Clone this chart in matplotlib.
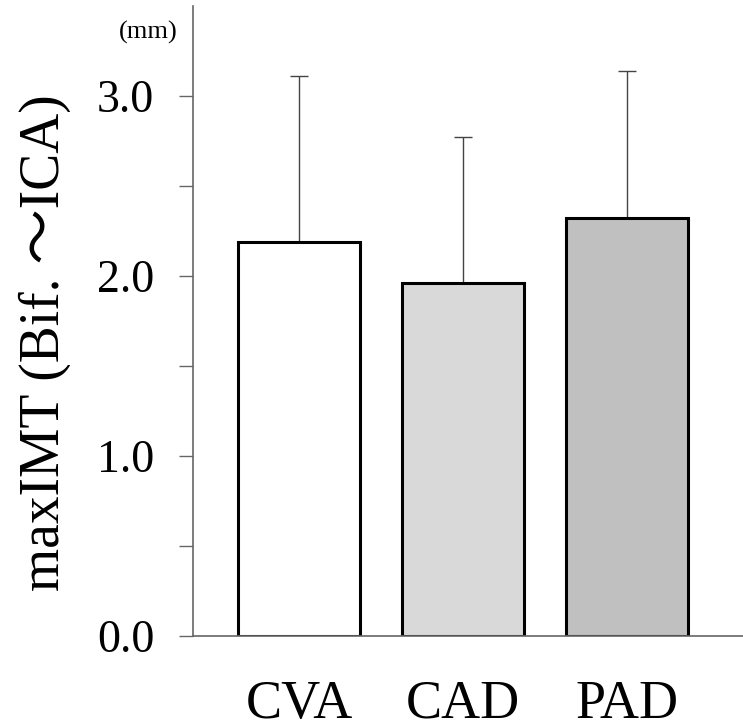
import matplotlib.pyplot as plt
import numpy as np

plt.rcParams['font.family'] = ['Liberation Serif', 'DejaVu Serif']

groups = ['CVA', 'CAD', 'PAD']
means = [2.19, 1.96, 2.32]
sd_upper = [0.92, 0.81, 0.82]
colors = ['#ffffff', '#d9d9d9', '#c0c0c0']
yticks = [0.0, 1.0, 2.0, 3.0]
ytick_labels = ['0.0', '1.0', '2.0', '3.0']

fig = plt.figure(figsize=(7.43, 7.28), dpi=100)
ax = fig.add_axes([0.2598, 0.1264, 0.7402, 0.8654])

x = np.arange(len(groups))
ax.bar(x, means, width=0.74, color=colors, edgecolor='black', linewidth=2.2, zorder=2)
ax.errorbar(x, means, yerr=[np.zeros(len(means)), sd_upper], fmt='none',
            ecolor='#444444', elinewidth=1, capsize=6.5, capthick=1, zorder=1)

ax.set_xlim(-0.646, 2.707)
ax.set_ylim(0, 3.5)
ax.set_yticks(yticks)
ax.set_yticklabels(ytick_labels, fontsize=33)
ax.set_yticks([0.5, 1.5, 2.5], minor=True)
ax.set_xticks(x)
ax.set_xticklabels(groups, fontsize=39)

ax.tick_params(axis='y', which='both', direction='out', length=10, width=1,
               color='#666666', pad=18)
ax.tick_params(axis='x', length=0, pad=31)

for s in ['top', 'right']:
    ax.spines[s].set_visible(False)
for s in ['left', 'bottom']:
    ax.spines[s].set_color('#666666')
    ax.spines[s].set_linewidth(1.2)

ax.set_ylabel('maxIMT (Bif. \u301cICA)', fontsize=40,
              family=['Liberation Serif', 'Noto Sans CJK JP'])
ax.yaxis.set_label_coords(-0.222, 0.465)
fig.text(0.2, 0.955, '(mm)', fontsize=19, ha='center', va='center')

fig.savefig('out.png', dpi=100)
